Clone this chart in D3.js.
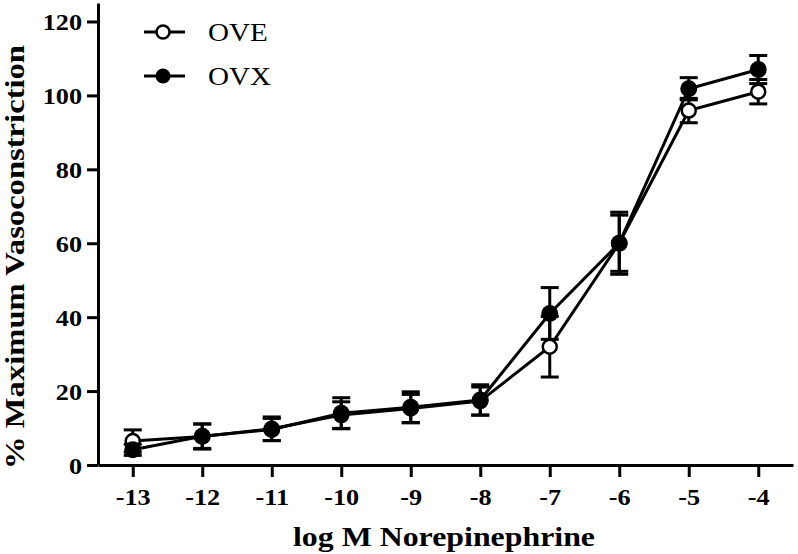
<!DOCTYPE html>
<html>
<head>
<meta charset="utf-8">
<script src="https://cdn.jsdelivr.net/npm/d3@7"></script>
<style>
  html, body { margin: 0; padding: 0; background: #fff; }
  svg { display: block; }
</style>
</head>
<body>
<svg id="chart" width="798" height="554"></svg>
<script>
const xValues = [-13, -12, -11, -10, -9, -8, -7, -6, -5, -4];
const xTickLabels = ["-13", "-12", "-11", "-10", "-9", "-8", "-7", "-6", "-5", "-4"];
const yTickValues = [0, 20, 40, 60, 80, 100, 120];

const oveMean = [6.5, 7.7, 9.8, 13.5, 15.3, 17.3, 32.0, 60.0, 95.9, 101.0];
const oveErr  = [3.0, 3.4, 3.2, 3.6, 3.8, 3.8, 8.2, 8.4, 3.3, 3.3];
const ovxMean = [4.1, 7.8, 9.6, 14.0, 15.6, 17.6, 41.0, 60.0, 101.8, 107.0];
const ovxErr  = [1.5, 3.3, 3.0, 4.2, 4.2, 4.1, 7.0, 7.6, 3.0, 3.8];

const seriesNames = ["OVE", "OVX"];

const svg = d3.select("#chart");
const x = d3.scaleLinear().domain([-13.5, -3.5]).range([98, 793]);
const y = d3.scaleLinear().domain([0, 125]).range([465, 3]);

const font = "'Liberation Serif', 'Times New Roman', serif";

function stretch(sel, k) {
  sel.each(function () {
    const w = this.getComputedTextLength();
    d3.select(this).attr("textLength", w * k).attr("lengthAdjust", "spacingAndGlyphs");
  });
}

// axes
const xAxis = svg.append("g").attr("transform", `translate(0,${y(0)})`)
  .call(d3.axisBottom(x).tickValues(xValues).tickFormat((d, i) => xTickLabels[i]).tickSize(12).tickSizeOuter(0).tickPadding(12));
const yAxis = svg.append("g").attr("transform", `translate(${x(-13.5)},0)`)
  .call(d3.axisLeft(y).tickValues(yTickValues).tickSize(11).tickSizeOuter(0).tickPadding(5));

[xAxis, yAxis].forEach(a => {
  a.selectAll("path.domain").attr("stroke", "#000").attr("stroke-width", 3);
  a.selectAll(".tick line").attr("stroke", "#000").attr("stroke-width", 3);
  a.selectAll(".tick text").attr("font-family", font).attr("font-weight", "bold")
    .attr("font-size", 23).attr("fill", "#000");
  stretch(a.selectAll(".tick text"), 1.14);
});
yAxis.selectAll(".tick text").attr("dy", "0.36em");

// axis titles
const xTitle = svg.append("text").attr("x", 444).attr("y", 546).attr("text-anchor", "middle")
  .attr("font-family", font).attr("font-weight", "bold").attr("font-size", 28)
  .text("log M Norepinephrine");
xTitle.attr("textLength", 302).attr("lengthAdjust", "spacingAndGlyphs");
const yTitle = svg.append("text").attr("transform", "translate(24,257) rotate(-90)").attr("text-anchor", "middle")
  .attr("font-family", font).attr("font-weight", "bold").attr("font-size", 28)
  .text("% Maximum Vasoconstriction");
yTitle.attr("textLength", 424).attr("lengthAdjust", "spacingAndGlyphs");

const series = [
  { name: seriesNames[0], mean: oveMean, err: oveErr, filled: false },
  { name: seriesNames[1], mean: ovxMean, err: ovxErr, filled: true }
];

const line = d3.line().x(d => x(d.x)).y(d => y(d.y));
const capW = 9;

series.forEach(s => {
  const pts = xValues.map((v, i) => ({ x: v, y: s.mean[i], e: s.err[i] }));
  const g = svg.append("g");
  pts.forEach(p => {
    g.append("line").attr("x1", x(p.x)).attr("x2", x(p.x)).attr("y1", y(p.y - p.e)).attr("y2", y(p.y + p.e))
      .attr("stroke", "#000").attr("stroke-width", 3);
    [p.y - p.e, p.y + p.e].forEach(v => {
      g.append("line").attr("x1", x(p.x) - capW).attr("x2", x(p.x) + capW).attr("y1", y(v)).attr("y2", y(v))
        .attr("stroke", "#000").attr("stroke-width", 3);
    });
  });
  g.append("path").datum(pts).attr("d", line).attr("fill", "none").attr("stroke", "#000").attr("stroke-width", 3);
  s.g = g; s.pts = pts;
});
series.forEach(s => {
  s.g.selectAll("circle").data(s.pts).join("circle")
    .attr("cx", d => x(d.x)).attr("cy", d => y(d.y))
    .attr("r", s.filled ? 8.5 : 7)
    .attr("fill", s.filled ? "#000" : "#fff")
    .attr("stroke", "#000").attr("stroke-width", s.filled ? 0 : 2.5);
});

// legend
const legend = svg.append("g");
series.forEach((s, i) => {
  const ly = 32 + i * 44;
  legend.append("line").attr("x1", 144).attr("x2", 185).attr("y1", ly).attr("y2", ly)
    .attr("stroke", "#000").attr("stroke-width", 3);
  legend.append("circle").attr("cx", 163).attr("cy", ly).attr("r", s.filled ? 7.5 : 6.5)
    .attr("fill", s.filled ? "#000" : "#fff").attr("stroke", "#000").attr("stroke-width", s.filled ? 0 : 2.5);
  const t = legend.append("text").attr("x", 208).attr("y", ly).attr("dy", "0.35em")
    .attr("font-family", font).attr("font-size", 26).text(s.name);
  stretch(t, 1.12);
});
</script>
</body>
</html>
